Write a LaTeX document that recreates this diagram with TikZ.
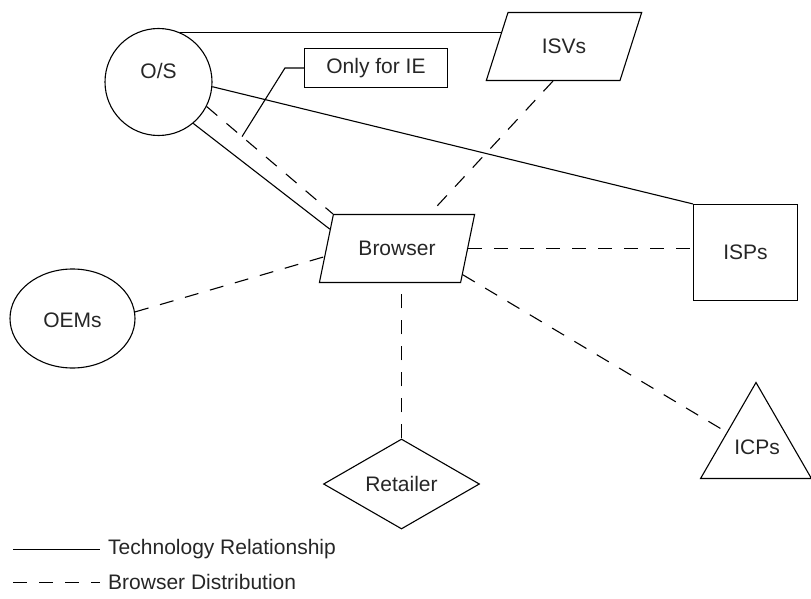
\documentclass[tikz,border=0pt]{standalone}
\usepackage{fontspec}
\setmainfont{Liberation Sans}
\usetikzlibrary{shapes.geometric,calc,backgrounds}

\tikzset{
  base/.style={draw=black, line width=1.1pt, fill=white, inner sep=0pt,
               text=black!85, font=\fontsize{21}{24}\selectfont},
  plainshape/.style={draw=none, fill=none, inner sep=0pt,
               text=black!85, font=\fontsize{21}{24}\selectfont},
  para/.style={base, trapezium, trapezium left angle=60, trapezium right angle=120,
               trapezium stretches=true, minimum width=156pt, minimum height=68pt},
  techlink/.style={draw=black, line width=1.1pt},
  distlink/.style={draw=black, line width=1.1pt, dash pattern=on 14pt off 12pt},
  calloutline/.style={draw=black, line width=1.1pt},
}

\begin{document}
\begin{tikzpicture}[x=1pt, y=-1pt]
\useasboundingbox (0,0) rectangle (811,599);

% ---- parties ----
\node[base, circle, minimum size=107pt] (os) at (158.5,82) {};
\node[plainshape] (ostext) at (158.5,71) {O/S};

\node[para] (isvs) at (564,46.5) {ISVs};
\node[para] (browser) at (397,248.5) {Browser};

\node[base, rectangle, minimum width=104pt, minimum height=96pt] (isps) at (745.5,252.5) {ISPs};
\node[base, ellipse, minimum width=125pt, minimum height=99pt] (oems) at (72.5,318.5) {};
\node[plainshape] (oemstext) at (72.5,320) {OEMs};
\node[base, diamond, shape aspect=1.73, minimum width=156pt, minimum height=90pt] (retailer) at (401.5,484) {Retailer};
\node[base, regular polygon, regular polygon sides=3, minimum size=128pt] (icps) at (756,446.5) {};
\node[plainshape] (icpstext) at (757,447) {ICPs};

\node[base, rectangle, minimum width=143pt, minimum height=39pt] (iebox) at (376,68) {Only for IE};

% ---- points on the edges ----
\coordinate (isvsjoin) at ($(isvs.bottom left corner)!0.7!(isvs.top left corner)$);
\coordinate (brtop) at ($(browser.top left corner)!0.68!(browser.top right corner)$);
\coordinate (brleftA) at ($(browser.bottom left corner)!0.78!(browser.top left corner)$);
\coordinate (brleftB) at ($(browser.bottom left corner)!0.38!(browser.top left corner)$);
\coordinate (brright) at ($(browser.bottom right corner)!0.12!(browser.top right corner)$);
\coordinate (icpsleft) at ($(icps.corner 2)!0.48!(icps.corner 1)$);
\coordinate (iept) at ($(os.-27)!0.28!(browser.top left corner)$);

% ---- technology relationships ----
\draw[techlink] (os.67) -- (os.67 -| isvsjoin);
\draw[techlink] (os.-5) -- (isps.north west);
\draw[techlink] (os.-50) -- (brleftA);

% ---- browser distribution ----
\draw[distlink] (os.-27) -- (browser.top left corner);
\draw[distlink] (isvs.bottom side) -- (brtop);
\draw[distlink] (browser.right side) -- (browser.right side -| isps.west);
\draw[distlink] (oems.6) -- (brleftB);
\draw[distlink] (retailer.north) -- (retailer.north |- browser.bottom side);
\draw[distlink] (brright) -- (icpsleft);

% ---- callout ----
\draw[calloutline] (iebox.west) -- ++(-19,0) -- (iept);

% ---- legend ----
\coordinate (legA) at (13,549.5);
\coordinate (legB) at (100,549.5);
\coordinate (legC) at (13,582.5);
\coordinate (legD) at (100,582.5);
\draw[techlink] (legA) -- (legB);
\draw[distlink] (legC) -- (legD);
\node[plainshape, anchor=west] (legtech) at (108,549) {Technology Relationship};
\node[plainshape, anchor=west] (legdist) at (108,582) {Browser Distribution};
\end{tikzpicture}
\end{document}
